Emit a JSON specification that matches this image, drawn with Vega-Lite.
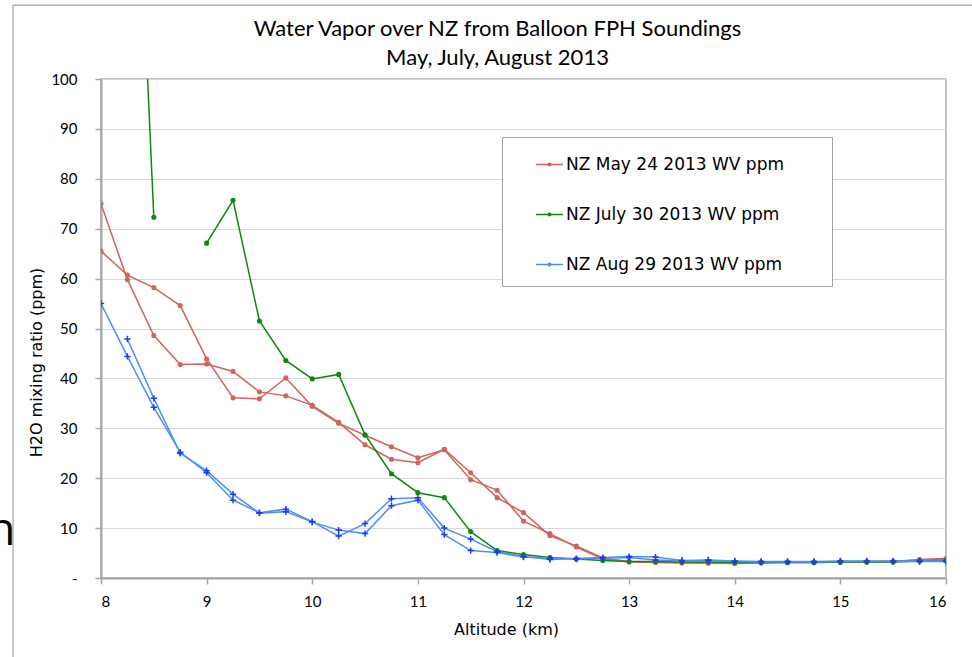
{
  "$schema": "https://vega.github.io/schema/vega-lite/v6.json",
  "autosize": {"type": "none"},
  "width": 845,
  "height": 499,
  "padding": {"left": 101, "top": 79, "right": 26, "bottom": 79},
  "background": "white",
  "title": {
    "text": ["Water Vapor over NZ from Balloon FPH Soundings", "May, July, August 2013"],
    "font": "Lato",
    "fontSize": 22,
    "fontWeight": "normal",
    "lineHeight": 29,
    "anchor": "middle",
    "offset": -66,
    "dx": -26
  },
  "config": {
    "view": {"stroke": "#aaaaaa", "strokeWidth": 1.5},
    "title": {"color": "#000000"},
    "axis": {
      "labelFont": "Lato",
      "labelFontSize": 15,
      "labelColor": "#000000",
      "titleFont": "DejaVu Sans",
      "titleFontSize": 16,
      "titleFontWeight": "normal",
      "titleColor": "#000000",
      "domainColor": "#a6a6a6",
      "domainWidth": 2,
      "tickColor": "#a6a6a6",
      "tickWidth": 1.5,
      "tickSize": 6,
      "gridColor": "#d9d9d9",
      "gridWidth": 1
    }
  },
  "datasets": {
    "wv": [
      {"series": "NZ May 24 2013 WV ppm", "trace": "ra", "alt": 8, "ppm": 75.0},
      {"series": "NZ May 24 2013 WV ppm", "trace": "ra", "alt": 8.25, "ppm": 59.8},
      {"series": "NZ May 24 2013 WV ppm", "trace": "ra", "alt": 8.5, "ppm": 48.6},
      {"series": "NZ May 24 2013 WV ppm", "trace": "ra", "alt": 8.75, "ppm": 42.8},
      {"series": "NZ May 24 2013 WV ppm", "trace": "ra", "alt": 9, "ppm": 42.9},
      {"series": "NZ May 24 2013 WV ppm", "trace": "ra", "alt": 9.25, "ppm": 41.4},
      {"series": "NZ May 24 2013 WV ppm", "trace": "ra", "alt": 9.5, "ppm": 37.3},
      {"series": "NZ May 24 2013 WV ppm", "trace": "ra", "alt": 9.75, "ppm": 36.5},
      {"series": "NZ May 24 2013 WV ppm", "trace": "ra", "alt": 10, "ppm": 34.6},
      {"series": "NZ May 24 2013 WV ppm", "trace": "ra", "alt": 10.25, "ppm": 31.2},
      {"series": "NZ May 24 2013 WV ppm", "trace": "ra", "alt": 10.5, "ppm": 26.7},
      {"series": "NZ May 24 2013 WV ppm", "trace": "ra", "alt": 10.75, "ppm": 23.8},
      {"series": "NZ May 24 2013 WV ppm", "trace": "ra", "alt": 11, "ppm": 23.1},
      {"series": "NZ May 24 2013 WV ppm", "trace": "ra", "alt": 11.25, "ppm": 25.8},
      {"series": "NZ May 24 2013 WV ppm", "trace": "ra", "alt": 11.5, "ppm": 21.1},
      {"series": "NZ May 24 2013 WV ppm", "trace": "ra", "alt": 11.75, "ppm": 16.1},
      {"series": "NZ May 24 2013 WV ppm", "trace": "ra", "alt": 12, "ppm": 13.1},
      {"series": "NZ May 24 2013 WV ppm", "trace": "ra", "alt": 12.25, "ppm": 8.5},
      {"series": "NZ May 24 2013 WV ppm", "trace": "ra", "alt": 12.5, "ppm": 6.4},
      {"series": "NZ May 24 2013 WV ppm", "trace": "ra", "alt": 12.75, "ppm": 4.0},
      {"series": "NZ May 24 2013 WV ppm", "trace": "ra", "alt": 13, "ppm": 3.3},
      {"series": "NZ May 24 2013 WV ppm", "trace": "ra", "alt": 13.25, "ppm": 3.2},
      {"series": "NZ May 24 2013 WV ppm", "trace": "ra", "alt": 13.5, "ppm": 3.1},
      {"series": "NZ May 24 2013 WV ppm", "trace": "ra", "alt": 13.75, "ppm": 3.0},
      {"series": "NZ May 24 2013 WV ppm", "trace": "ra", "alt": 14, "ppm": 3.0},
      {"series": "NZ May 24 2013 WV ppm", "trace": "ra", "alt": 14.25, "ppm": 3.1},
      {"series": "NZ May 24 2013 WV ppm", "trace": "ra", "alt": 14.5, "ppm": 3.2},
      {"series": "NZ May 24 2013 WV ppm", "trace": "ra", "alt": 14.75, "ppm": 3.2},
      {"series": "NZ May 24 2013 WV ppm", "trace": "ra", "alt": 15, "ppm": 3.2},
      {"series": "NZ May 24 2013 WV ppm", "trace": "ra", "alt": 15.25, "ppm": 3.3},
      {"series": "NZ May 24 2013 WV ppm", "trace": "ra", "alt": 15.5, "ppm": 3.3},
      {"series": "NZ May 24 2013 WV ppm", "trace": "ra", "alt": 15.75, "ppm": 3.7},
      {"series": "NZ May 24 2013 WV ppm", "trace": "ra", "alt": 16, "ppm": 3.9},
      {"series": "NZ May 24 2013 WV ppm", "trace": "rb", "alt": 8, "ppm": 65.5},
      {"series": "NZ May 24 2013 WV ppm", "trace": "rb", "alt": 8.25, "ppm": 60.7},
      {"series": "NZ May 24 2013 WV ppm", "trace": "rb", "alt": 8.5, "ppm": 58.2},
      {"series": "NZ May 24 2013 WV ppm", "trace": "rb", "alt": 8.75, "ppm": 54.6},
      {"series": "NZ May 24 2013 WV ppm", "trace": "rb", "alt": 9, "ppm": 43.9},
      {"series": "NZ May 24 2013 WV ppm", "trace": "rb", "alt": 9.25, "ppm": 36.1},
      {"series": "NZ May 24 2013 WV ppm", "trace": "rb", "alt": 9.5, "ppm": 35.9},
      {"series": "NZ May 24 2013 WV ppm", "trace": "rb", "alt": 9.75, "ppm": 40.1},
      {"series": "NZ May 24 2013 WV ppm", "trace": "rb", "alt": 10, "ppm": 34.4},
      {"series": "NZ May 24 2013 WV ppm", "trace": "rb", "alt": 10.25, "ppm": 31.0},
      {"series": "NZ May 24 2013 WV ppm", "trace": "rb", "alt": 10.5, "ppm": 28.6},
      {"series": "NZ May 24 2013 WV ppm", "trace": "rb", "alt": 10.75, "ppm": 26.3},
      {"series": "NZ May 24 2013 WV ppm", "trace": "rb", "alt": 11, "ppm": 24.1},
      {"series": "NZ May 24 2013 WV ppm", "trace": "rb", "alt": 11.25, "ppm": 25.7},
      {"series": "NZ May 24 2013 WV ppm", "trace": "rb", "alt": 11.5, "ppm": 19.7},
      {"series": "NZ May 24 2013 WV ppm", "trace": "rb", "alt": 11.75, "ppm": 17.6},
      {"series": "NZ May 24 2013 WV ppm", "trace": "rb", "alt": 12, "ppm": 11.4},
      {"series": "NZ May 24 2013 WV ppm", "trace": "rb", "alt": 12.25, "ppm": 8.9},
      {"series": "NZ May 24 2013 WV ppm", "trace": "rb", "alt": 12.5, "ppm": 6.2},
      {"series": "NZ May 24 2013 WV ppm", "trace": "rb", "alt": 12.75, "ppm": 3.8},
      {"series": "NZ May 24 2013 WV ppm", "trace": "rb", "alt": 13, "ppm": 3.2},
      {"series": "NZ May 24 2013 WV ppm", "trace": "rb", "alt": 13.25, "ppm": 3.1},
      {"series": "NZ May 24 2013 WV ppm", "trace": "rb", "alt": 13.5, "ppm": 3.0},
      {"series": "NZ May 24 2013 WV ppm", "trace": "rb", "alt": 13.75, "ppm": 3.0},
      {"series": "NZ May 24 2013 WV ppm", "trace": "rb", "alt": 14, "ppm": 2.9},
      {"series": "NZ May 24 2013 WV ppm", "trace": "rb", "alt": 14.25, "ppm": 3.0},
      {"series": "NZ May 24 2013 WV ppm", "trace": "rb", "alt": 14.5, "ppm": 3.1},
      {"series": "NZ May 24 2013 WV ppm", "trace": "rb", "alt": 14.75, "ppm": 3.1},
      {"series": "NZ May 24 2013 WV ppm", "trace": "rb", "alt": 15, "ppm": 3.2},
      {"series": "NZ May 24 2013 WV ppm", "trace": "rb", "alt": 15.25, "ppm": 3.2},
      {"series": "NZ May 24 2013 WV ppm", "trace": "rb", "alt": 15.5, "ppm": 3.3},
      {"series": "NZ May 24 2013 WV ppm", "trace": "rb", "alt": 15.75, "ppm": 3.6},
      {"series": "NZ May 24 2013 WV ppm", "trace": "rb", "alt": 16, "ppm": 3.8},
      {"series": "NZ July 30 2013 WV ppm", "trace": "ga", "alt": 8.25, "ppm": 190},
      {"series": "NZ July 30 2013 WV ppm", "trace": "ga", "alt": 8.5, "ppm": 72.3},
      {"series": "NZ July 30 2013 WV ppm", "trace": "gb", "alt": 9, "ppm": 67.1},
      {"series": "NZ July 30 2013 WV ppm", "trace": "gb", "alt": 9.25, "ppm": 75.7},
      {"series": "NZ July 30 2013 WV ppm", "trace": "gb", "alt": 9.5, "ppm": 51.5},
      {"series": "NZ July 30 2013 WV ppm", "trace": "gb", "alt": 9.75, "ppm": 43.6},
      {"series": "NZ July 30 2013 WV ppm", "trace": "gb", "alt": 10, "ppm": 39.9},
      {"series": "NZ July 30 2013 WV ppm", "trace": "gb", "alt": 10.25, "ppm": 40.8},
      {"series": "NZ July 30 2013 WV ppm", "trace": "gb", "alt": 10.5, "ppm": 28.7},
      {"series": "NZ July 30 2013 WV ppm", "trace": "gb", "alt": 10.75, "ppm": 20.9},
      {"series": "NZ July 30 2013 WV ppm", "trace": "gb", "alt": 11, "ppm": 17.1},
      {"series": "NZ July 30 2013 WV ppm", "trace": "gb", "alt": 11.25, "ppm": 16.1},
      {"series": "NZ July 30 2013 WV ppm", "trace": "gb", "alt": 11.5, "ppm": 9.3},
      {"series": "NZ July 30 2013 WV ppm", "trace": "gb", "alt": 11.75, "ppm": 5.5},
      {"series": "NZ July 30 2013 WV ppm", "trace": "gb", "alt": 12, "ppm": 4.7},
      {"series": "NZ July 30 2013 WV ppm", "trace": "gb", "alt": 12.25, "ppm": 4.1},
      {"series": "NZ July 30 2013 WV ppm", "trace": "gb", "alt": 12.5, "ppm": 3.8},
      {"series": "NZ July 30 2013 WV ppm", "trace": "gb", "alt": 12.75, "ppm": 3.5},
      {"series": "NZ July 30 2013 WV ppm", "trace": "gb", "alt": 13, "ppm": 3.3},
      {"series": "NZ July 30 2013 WV ppm", "trace": "gb", "alt": 13.25, "ppm": 3.3},
      {"series": "NZ July 30 2013 WV ppm", "trace": "gb", "alt": 13.5, "ppm": 3.2},
      {"series": "NZ July 30 2013 WV ppm", "trace": "gb", "alt": 13.75, "ppm": 3.2},
      {"series": "NZ July 30 2013 WV ppm", "trace": "gb", "alt": 14, "ppm": 3.1},
      {"series": "NZ July 30 2013 WV ppm", "trace": "gb", "alt": 14.25, "ppm": 3.1},
      {"series": "NZ July 30 2013 WV ppm", "trace": "gb", "alt": 14.5, "ppm": 3.1},
      {"series": "NZ July 30 2013 WV ppm", "trace": "gb", "alt": 14.75, "ppm": 3.1},
      {"series": "NZ July 30 2013 WV ppm", "trace": "gb", "alt": 15, "ppm": 3.2},
      {"series": "NZ July 30 2013 WV ppm", "trace": "gb", "alt": 15.25, "ppm": 3.2},
      {"series": "NZ July 30 2013 WV ppm", "trace": "gb", "alt": 15.5, "ppm": 3.2},
      {"series": "NZ July 30 2013 WV ppm", "trace": "gb", "alt": 15.75, "ppm": 3.4},
      {"series": "NZ July 30 2013 WV ppm", "trace": "gb", "alt": 16, "ppm": 3.5},
      {"series": "NZ Aug 29 2013 WV ppm", "trace": "ba", "alt": 8, "ppm": 55.0},
      {"series": "NZ Aug 29 2013 WV ppm", "trace": "ba", "alt": 8.25, "ppm": 44.4},
      {"series": "NZ Aug 29 2013 WV ppm", "trace": "ba", "alt": 8.5, "ppm": 34.2},
      {"series": "NZ Aug 29 2013 WV ppm", "trace": "ba", "alt": 8.75, "ppm": 25.2},
      {"series": "NZ Aug 29 2013 WV ppm", "trace": "ba", "alt": 9, "ppm": 21.1},
      {"series": "NZ Aug 29 2013 WV ppm", "trace": "ba", "alt": 9.25, "ppm": 15.6},
      {"series": "NZ Aug 29 2013 WV ppm", "trace": "ba", "alt": 9.5, "ppm": 13.1},
      {"series": "NZ Aug 29 2013 WV ppm", "trace": "ba", "alt": 9.75, "ppm": 13.8},
      {"series": "NZ Aug 29 2013 WV ppm", "trace": "ba", "alt": 10, "ppm": 11.3},
      {"series": "NZ Aug 29 2013 WV ppm", "trace": "ba", "alt": 10.25, "ppm": 8.4},
      {"series": "NZ Aug 29 2013 WV ppm", "trace": "ba", "alt": 10.5, "ppm": 10.9},
      {"series": "NZ Aug 29 2013 WV ppm", "trace": "ba", "alt": 10.75, "ppm": 15.9},
      {"series": "NZ Aug 29 2013 WV ppm", "trace": "ba", "alt": 11, "ppm": 16.1},
      {"series": "NZ Aug 29 2013 WV ppm", "trace": "ba", "alt": 11.25, "ppm": 10.0},
      {"series": "NZ Aug 29 2013 WV ppm", "trace": "ba", "alt": 11.5, "ppm": 7.8},
      {"series": "NZ Aug 29 2013 WV ppm", "trace": "ba", "alt": 11.75, "ppm": 5.3},
      {"series": "NZ Aug 29 2013 WV ppm", "trace": "ba", "alt": 12, "ppm": 4.3},
      {"series": "NZ Aug 29 2013 WV ppm", "trace": "ba", "alt": 12.25, "ppm": 3.7},
      {"series": "NZ Aug 29 2013 WV ppm", "trace": "ba", "alt": 12.5, "ppm": 3.9},
      {"series": "NZ Aug 29 2013 WV ppm", "trace": "ba", "alt": 12.75, "ppm": 4.1},
      {"series": "NZ Aug 29 2013 WV ppm", "trace": "ba", "alt": 13, "ppm": 4.3},
      {"series": "NZ Aug 29 2013 WV ppm", "trace": "ba", "alt": 13.25, "ppm": 4.2},
      {"series": "NZ Aug 29 2013 WV ppm", "trace": "ba", "alt": 13.5, "ppm": 3.5},
      {"series": "NZ Aug 29 2013 WV ppm", "trace": "ba", "alt": 13.75, "ppm": 3.6},
      {"series": "NZ Aug 29 2013 WV ppm", "trace": "ba", "alt": 14, "ppm": 3.4},
      {"series": "NZ Aug 29 2013 WV ppm", "trace": "ba", "alt": 14.25, "ppm": 3.3},
      {"series": "NZ Aug 29 2013 WV ppm", "trace": "ba", "alt": 14.5, "ppm": 3.3},
      {"series": "NZ Aug 29 2013 WV ppm", "trace": "ba", "alt": 14.75, "ppm": 3.3},
      {"series": "NZ Aug 29 2013 WV ppm", "trace": "ba", "alt": 15, "ppm": 3.4},
      {"series": "NZ Aug 29 2013 WV ppm", "trace": "ba", "alt": 15.25, "ppm": 3.4},
      {"series": "NZ Aug 29 2013 WV ppm", "trace": "ba", "alt": 15.5, "ppm": 3.4},
      {"series": "NZ Aug 29 2013 WV ppm", "trace": "ba", "alt": 15.75, "ppm": 3.4},
      {"series": "NZ Aug 29 2013 WV ppm", "trace": "ba", "alt": 16, "ppm": 3.4},
      {"series": "NZ Aug 29 2013 WV ppm", "trace": "bb", "alt": 8.25, "ppm": 47.9},
      {"series": "NZ Aug 29 2013 WV ppm", "trace": "bb", "alt": 8.5, "ppm": 36.0},
      {"series": "NZ Aug 29 2013 WV ppm", "trace": "bb", "alt": 8.75, "ppm": 25.0},
      {"series": "NZ Aug 29 2013 WV ppm", "trace": "bb", "alt": 9, "ppm": 21.5},
      {"series": "NZ Aug 29 2013 WV ppm", "trace": "bb", "alt": 9.25, "ppm": 16.8},
      {"series": "NZ Aug 29 2013 WV ppm", "trace": "bb", "alt": 9.5, "ppm": 13.0},
      {"series": "NZ Aug 29 2013 WV ppm", "trace": "bb", "alt": 9.75, "ppm": 13.3},
      {"series": "NZ Aug 29 2013 WV ppm", "trace": "bb", "alt": 10, "ppm": 11.2},
      {"series": "NZ Aug 29 2013 WV ppm", "trace": "bb", "alt": 10.25, "ppm": 9.6},
      {"series": "NZ Aug 29 2013 WV ppm", "trace": "bb", "alt": 10.5, "ppm": 8.9},
      {"series": "NZ Aug 29 2013 WV ppm", "trace": "bb", "alt": 10.75, "ppm": 14.5},
      {"series": "NZ Aug 29 2013 WV ppm", "trace": "bb", "alt": 11, "ppm": 15.6},
      {"series": "NZ Aug 29 2013 WV ppm", "trace": "bb", "alt": 11.25, "ppm": 8.7},
      {"series": "NZ Aug 29 2013 WV ppm", "trace": "bb", "alt": 11.5, "ppm": 5.5},
      {"series": "NZ Aug 29 2013 WV ppm", "trace": "bb", "alt": 11.75, "ppm": 5.1},
      {"series": "NZ Aug 29 2013 WV ppm", "trace": "bb", "alt": 12, "ppm": 4.2},
      {"series": "NZ Aug 29 2013 WV ppm", "trace": "bb", "alt": 12.25, "ppm": 4.0},
      {"series": "NZ Aug 29 2013 WV ppm", "trace": "bb", "alt": 12.5, "ppm": 3.8},
      {"series": "NZ Aug 29 2013 WV ppm", "trace": "bb", "alt": 12.75, "ppm": 4.0},
      {"series": "NZ Aug 29 2013 WV ppm", "trace": "bb", "alt": 13, "ppm": 4.1},
      {"series": "NZ Aug 29 2013 WV ppm", "trace": "bb", "alt": 13.25, "ppm": 3.6},
      {"series": "NZ Aug 29 2013 WV ppm", "trace": "bb", "alt": 13.5, "ppm": 3.4},
      {"series": "NZ Aug 29 2013 WV ppm", "trace": "bb", "alt": 13.75, "ppm": 3.5},
      {"series": "NZ Aug 29 2013 WV ppm", "trace": "bb", "alt": 14, "ppm": 3.3},
      {"series": "NZ Aug 29 2013 WV ppm", "trace": "bb", "alt": 14.25, "ppm": 3.2},
      {"series": "NZ Aug 29 2013 WV ppm", "trace": "bb", "alt": 14.5, "ppm": 3.2},
      {"series": "NZ Aug 29 2013 WV ppm", "trace": "bb", "alt": 14.75, "ppm": 3.2},
      {"series": "NZ Aug 29 2013 WV ppm", "trace": "bb", "alt": 15, "ppm": 3.3},
      {"series": "NZ Aug 29 2013 WV ppm", "trace": "bb", "alt": 15.25, "ppm": 3.3},
      {"series": "NZ Aug 29 2013 WV ppm", "trace": "bb", "alt": 15.5, "ppm": 3.3},
      {"series": "NZ Aug 29 2013 WV ppm", "trace": "bb", "alt": 15.75, "ppm": 3.3},
      {"series": "NZ Aug 29 2013 WV ppm", "trace": "bb", "alt": 16, "ppm": 3.3}
    ]
  },
  "data": {"name": "wv"},
  "encoding": {
    "x": {
      "field": "alt",
      "type": "quantitative",
      "scale": {"domain": [8, 16], "nice": false, "zero": false},
      "axis": {
        "title": "Altitude (km)",
        "values": [8, 9, 10, 11, 12, 13, 14, 15, 16],
        "grid": false,
        "labelPadding": 10,
        "titlePadding": 12,
        "titleX": 405,
        "titleAlign": "center"
      }
    },
    "y": {
      "field": "ppm",
      "type": "quantitative",
      "scale": {"domain": [0, 100], "nice": false},
      "axis": {
        "title": "H2O mixing ratio (ppm)",
        "values": [0, 10, 20, 30, 40, 50, 60, 70, 80, 90, 100],
        "grid": true,
        "labelPadding": 18,
        "titlePadding": 6,
        "titleY": 283,
        "titleAlign": "center",
        "labelExpr": "datum.value === 0 ? '-  ' : datum.label"
      }
    }
  },
  "layer": [
    {
      "mark": {"type": "line", "clip": true, "strokeWidth": 1.5},
      "encoding": {
        "color": {
          "field": "series",
          "type": "nominal",
          "scale": {
            "domain": ["NZ May 24 2013 WV ppm", "NZ July 30 2013 WV ppm", "NZ Aug 29 2013 WV ppm"],
            "range": ["#d0635b", "#0a8c0a", "#4f8ef7"]
          },
          "legend": {
            "title": "\u00a0",
            "titleOrient": "right",
            "titlePadding": 35,
            "titleFontSize": 10,
            "orient": "none",
            "legendX": 401,
            "legendY": 58,
            "padding": 13,
            "strokeColor": "#a0a0a0",
            "fillColor": "white",
            "rowPadding": 27,
            "symbolType": "M-1,0H1M0.1,0A0.1,0.1 0 1,1 -0.1,0A0.1,0.1 0 1,1 0.1,0Z",
            "symbolSize": 729,
            "symbolStrokeWidth": 1.5,
            "symbolOffset": 20,
            "labelFont": "DejaVu Sans",
            "labelFontSize": 17,
            "labelColor": "#000000",
            "labelOffset": 2,
            "labelLimit": 500
          }
        },
        "detail": {"field": "trace"}
      }
    },
    {
      "transform": [{"filter": "datum.series === 'NZ May 24 2013 WV ppm'"}],
      "mark": {"type": "point", "shape": "circle", "filled": true, "size": 26, "opacity": 1, "clip": true, "color": "#d0635b"}
    },
    {
      "transform": [{"filter": "datum.series === 'NZ July 30 2013 WV ppm'"}],
      "mark": {"type": "point", "shape": "circle", "filled": true, "size": 26, "opacity": 1, "clip": true, "color": "#0a8c0a"}
    },
    {
      "transform": [{"filter": "datum.series === 'NZ Aug 29 2013 WV ppm'"}],
      "mark": {"type": "point", "shape": "M-1,0H1M0,-1V1", "filled": false, "size": 40, "strokeWidth": 1.5, "opacity": 1, "clip": true, "color": "#1a3cf5"}
    },
    {
      "transform": [{"filter": "datum.trace === 'ra' && datum.alt === 8"}],
      "mark": {"type": "rule", "color": "#b4b4b4", "strokeWidth": 1.5},
      "encoding": {
        "x": {"datum": 7.167},
        "y": {"datum": 114.8},
        "y2": {"datum": -16}
      }
    },
    {
      "transform": [{"filter": "datum.trace === 'ra' && datum.alt === 8"}],
      "mark": {"type": "rule", "color": "#b4b4b4", "strokeWidth": 1.5},
      "encoding": {
        "y": {"datum": 114.8},
        "x": {"datum": 7.167},
        "x2": {"datum": 16.3}
      }
    },
    {
      "transform": [{"filter": "datum.trace === 'ra' && datum.alt === 8"}],
      "mark": {"type": "text", "text": "h", "font": "Open Sans", "fontSize": 46, "align": "right", "baseline": "alphabetic", "color": "#000000"},
      "encoding": {
        "x": {"datum": 7.19},
        "y": {"datum": 6.6}
      }
    }
  ]
}
